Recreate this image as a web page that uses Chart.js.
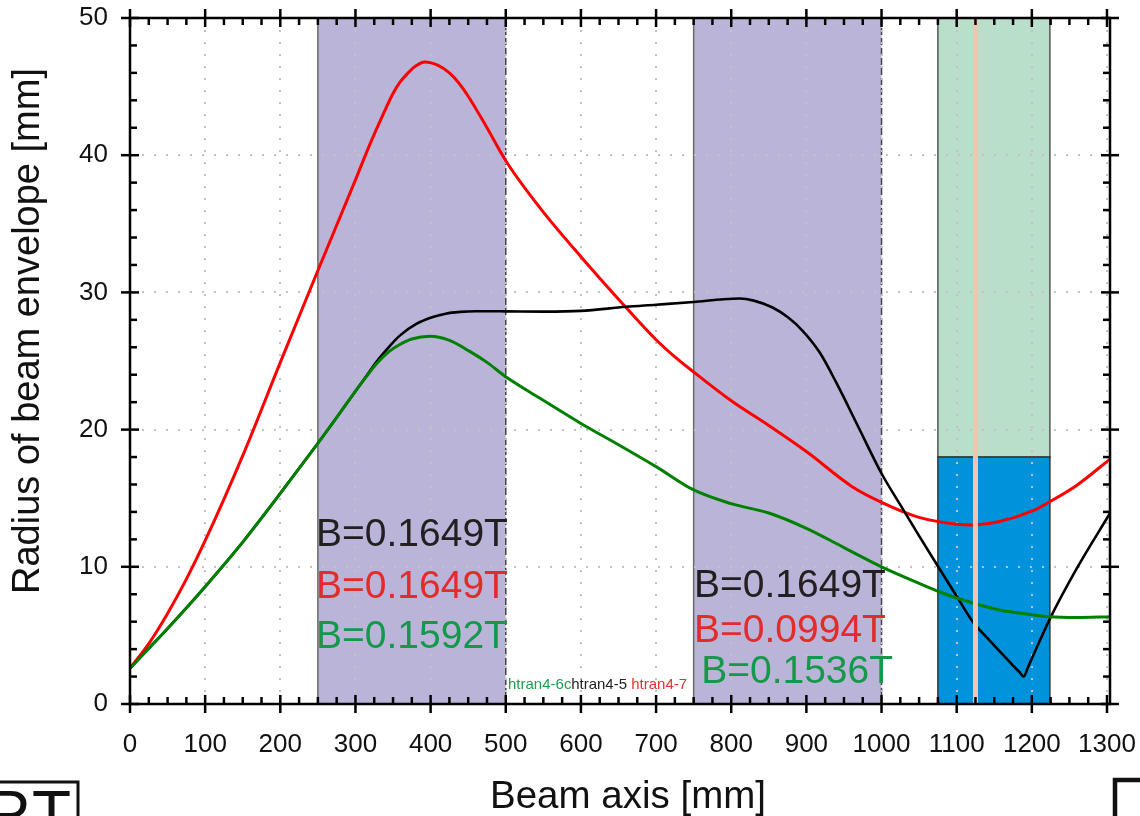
<!DOCTYPE html>
<html><head><meta charset="utf-8">
<script src="https://cdn.jsdelivr.net/npm/chart.js@4/dist/chart.umd.min.js"></script>
<style>html,body{margin:0;padding:0;background:#fff;}#wrap{width:1140px;height:816px;position:relative;overflow:hidden}</style>
</head><body><div id="wrap"><canvas id="c" width="1140" height="816"></canvas></div>
<script>
// ---- data ----
const seriesLabels = ['htran4-6c', 'htran4-5', 'htran4-7'];

const greenX = [0, 25, 50, 75, 100, 150, 200, 250, 270, 300, 315, 328, 345, 359, 375, 399, 425, 452, 475, 500, 545, 600, 650, 700, 750, 800, 851, 900, 950, 1000, 1050, 1076, 1104, 1157, 1201, 1223, 1259, 1304];
const greenY = [2.6, 4.05, 5.5, 7.0, 8.55, 11.8, 15.35, 19.0, 20.5, 22.8, 23.9, 24.8, 25.7, 26.2, 26.6, 26.8, 26.5, 25.7, 24.9, 23.85, 22.3, 20.45, 18.9, 17.3, 15.6, 14.6, 13.9, 12.8, 11.4, 10.0, 8.8, 8.2, 7.65, 6.85, 6.5, 6.36, 6.3, 6.36];

const blackX = [0, 25, 50, 75, 100, 150, 200, 250, 270, 300, 315, 328, 345, 359, 381, 403, 420, 439, 460, 500, 550, 600, 660, 700, 750, 790, 811, 830, 855, 875, 895, 918, 940, 970, 1000, 1024, 1050, 1076, 1100, 1122, 1140, 1157, 1175, 1184, 1189, 1195, 1223, 1260, 1304];
const blackY = [2.6, 4.05, 5.5, 7.0, 8.55, 11.8, 15.35, 19.0, 20.5, 22.8, 23.95, 24.95, 26.05, 26.85, 27.7, 28.2, 28.45, 28.58, 28.63, 28.62, 28.6, 28.65, 28.95, 29.1, 29.3, 29.5, 29.55, 29.4, 28.9, 28.2, 27.2, 25.6, 23.4, 20.1, 16.8, 14.6, 12.25, 9.95, 7.85, 5.95, 4.85, 3.85, 2.8, 2.3, 2.0, 2.7, 6.1, 9.9, 13.9];

const redX = [0, 25, 50, 75, 100, 150, 200, 250, 300, 320, 337, 350, 359, 370, 380, 392, 410, 425, 437, 450, 475, 500, 545, 600, 660, 700, 725, 750, 800, 850, 900, 962, 1000, 1050, 1100, 1120, 1157, 1200, 1224, 1260, 1304];
const redY = [2.6, 4.4, 6.6, 9.1, 11.9, 18.1, 24.9, 31.6, 38.2, 40.9, 43.0, 44.5, 45.3, 46.0, 46.5, 46.8, 46.55, 46.0, 45.3, 44.3, 42.0, 39.6, 36.2, 32.6, 28.9, 26.55, 25.3, 24.2, 22.1, 20.3, 18.4, 15.8, 14.7, 13.6, 13.1, 13.05, 13.3, 14.05, 14.75, 15.95, 17.85];

const xTicks = [0, 100, 200, 300, 400, 500, 600, 700, 800, 900, 1000, 1100, 1200, 1300];
const yTicks = [0, 10, 20, 30, 40, 50];

// magnet field regions [start, end] in mm
const magnetRegions = [[250, 500], [750, 1000]];
// detector box [start, end] and split height
const boxRange = [1075, 1224];
const boxSplit = 18;
const markerX = 1125;

// annotation texts
const annotTexts = ['B=0.1649T', 'B=0.1649T', 'B=0.1592T', 'B=0.1649T', 'B=0.0994T', 'B=0.1536T'];
const annotAnchorX = [247.5, 247.5, 247.5, 750.5, 750.5, 760];
const annotAnchorY = [12.3, 8.5, 4.85, 8.55, 5.3, 2.35];
const annotColors = ['#231f20', '#e32b2b', '#14984a', '#231f20', '#e32b2b', '#14984a'];
const legendAnchorX = [503, 587, 667];
const legendAnchorY = 1.4;

const xTitle = 'Beam axis [mm]';
const yTitle = 'Radius of beam envelope [mm]';

const FONT = "'Liberation Sans', Arial, sans-serif";
Chart.defaults.font.family = FONT;

const zip = (xs, ys) => xs.map((v, i) => ({x: v, y: ys[i]}));

function seg(ctx, x1, y1, x2, y2) { ctx.beginPath(); ctx.moveTo(x1, y1); ctx.lineTo(x2, y2); ctx.stroke(); }

const bgPlugin = {
  id: 'bgRegions',
  beforeDraw(chart) {
    const {ctx, scales: {x, y}} = chart;
    ctx.save();
    const yt = y.getPixelForValue(50), yb = y.getPixelForValue(0);
    magnetRegions.forEach(([a, b]) => {
      const x1 = x.getPixelForValue(a), x2 = x.getPixelForValue(b);
      ctx.fillStyle = '#bab5d8';
      ctx.fillRect(x1, yt, x2 - x1, yb - yt);
      ctx.lineWidth = 1.5;
      ctx.strokeStyle = '#6a6a6a';
      seg(ctx, x1, yt, x1, yb);
      ctx.setLineDash([7, 3]);
      ctx.strokeStyle = '#444';
      seg(ctx, x2, yt, x2, yb);
      ctx.setLineDash([]);
    });
    const bx1 = x.getPixelForValue(boxRange[0]), bx2 = x.getPixelForValue(boxRange[1]);
    const ys = y.getPixelForValue(boxSplit);
    ctx.fillStyle = '#b9dec9';
    ctx.fillRect(bx1, yt, bx2 - bx1, ys - yt);
    ctx.lineWidth = 1.5;
    ctx.strokeStyle = '#555';
    ctx.strokeRect(bx1, yt, bx2 - bx1, ys - yt);
    ctx.fillStyle = '#0093dc';
    ctx.fillRect(bx1, ys, bx2 - bx1, yb - ys);
    ctx.strokeStyle = '#333';
    ctx.strokeRect(bx1, ys, bx2 - bx1, yb - ys);
    ctx.restore();
  },
  afterDatasetsDraw(chart) {
    const {ctx, scales: {x, y}} = chart;
    ctx.save();
    ctx.strokeStyle = '#f3c4b1';
    ctx.lineWidth = 5;
    const px = x.getPixelForValue(markerX);
    seg(ctx, px, y.getPixelForValue(50), px, y.getPixelForValue(0));
    ctx.restore();
  },
  afterDraw(chart) {
    const {ctx, scales: {x, y}, chartArea: ca} = chart;
    ctx.save();
    // frame
    ctx.strokeStyle = '#000';
    ctx.lineWidth = 2.5;
    ctx.lineCap = 'butt';
    seg(ctx, ca.left, ca.top - 1, ca.left, ca.bottom + 1);
    seg(ctx, ca.left - 1, ca.bottom, ca.right + 1, ca.bottom);
    seg(ctx, ca.left - 1, ca.top, ca.right + 1, ca.top);
    seg(ctx, ca.right, ca.top - 1, ca.right, ca.bottom + 1);
    // ticks
    for (let v = 0; v <= 1300; v += 25) {
      const px = x.getPixelForValue(v);
      if (v % 100 === 0) {
        seg(ctx, px, ca.bottom - 9, px, ca.bottom + 9);
        seg(ctx, px, ca.top - 9, px, ca.top + 9);
      } else {
        seg(ctx, px, ca.bottom - 7, px, ca.bottom);
        seg(ctx, px, ca.top, px, ca.top + 7);
      }
    }
    for (let v = 0; v <= 50; v += 2) {
      const py = y.getPixelForValue(v);
      if (v % 10 === 0) {
        seg(ctx, ca.left - 9, py, ca.left + 9, py);
        seg(ctx, ca.right - 9, py, ca.right + 9, py);
      } else {
        seg(ctx, ca.left, py, ca.left + 7, py);
        seg(ctx, ca.right - 7, py, ca.right, py);
      }
    }
    // annotations
    ctx.font = '39px ' + FONT;
    ctx.textBaseline = 'middle';
    ctx.textAlign = 'left';
    annotTexts.forEach((t, i) => {
      ctx.fillStyle = annotColors[i];
      ctx.fillText(t, x.getPixelForValue(annotAnchorX[i]), y.getPixelForValue(annotAnchorY[i]));
    });
    // small legend
    ctx.font = '15px ' + FONT;
    const legColors = ['#1e9e4e', '#222', '#e8302c'];
    seriesLabels.forEach((t, i) => {
      ctx.fillStyle = legColors[i];
      ctx.fillText(t, x.getPixelForValue(legendAnchorX[i]), y.getPixelForValue(legendAnchorY));
    });
    // axis titles
    ctx.fillStyle = '#111';
    ctx.font = '38.5px ' + FONT;
    ctx.textAlign = 'center';
    ctx.fillText(xTitle, 628, 797);
    ctx.save();
    ctx.translate(29, 331);
    ctx.rotate(-Math.PI / 2);
    ctx.font = '38px ' + FONT;
    ctx.fillText(yTitle, 0, 0);
    ctx.restore();
    // logos (cropped)
    ctx.strokeStyle = '#111';
    ctx.lineWidth = 3;
    ctx.strokeRect(-10, 782, 88, 60);
    ctx.fillStyle = '#111';
    ctx.font = '64px ' + FONT;
    ctx.textAlign = 'left';
    ctx.textBaseline = 'alphabetic';
    ctx.fillText('R', -15, 836);
    ctx.fillText('T', 32, 836);
    ctx.lineWidth = 4.5;
    ctx.beginPath();
    ctx.moveTo(1115, 820); ctx.lineTo(1115, 780); ctx.lineTo(1145, 780);
    ctx.stroke();
    ctx.restore();
  }
};

function noPad(s) { s.paddingLeft = 0; s.paddingRight = 0; s.paddingTop = 0; s.paddingBottom = 0; }

new Chart(document.getElementById('c'), {
  type: 'scatter',
  data: {
    datasets: [
      {label: seriesLabels[0], data: zip(greenX, greenY), borderColor: '#008000', borderWidth: 3},
      {label: seriesLabels[1], data: zip(blackX, blackY), borderColor: '#000000', borderWidth: 2.6},
      {label: seriesLabels[2], data: zip(redX, redY), borderColor: '#ff0000', borderWidth: 3}
    ].map(d => Object.assign(d, {showLine: true, pointRadius: 0, pointHoverRadius: 0, fill: false, cubicInterpolationMode: 'monotone'}))
  },
  options: {
    responsive: false,
    animation: false,
    devicePixelRatio: 1,
    layout: {padding: {top: 18, right: 30, left: 0, bottom: 0}},
    plugins: {legend: {display: false}, tooltip: {enabled: false}},
    scales: {
      x: {
        type: 'linear', min: 0, max: 1304,
        afterBuildTicks: s => { s.ticks = xTicks.map(v => ({value: v})); },
        afterFit: s => { s.height = 112; noPad(s); },
        ticks: {padding: 25, color: '#111', font: {size: 26}, maxRotation: 0, autoSkip: false, callback: v => String(v)},
        grid: {display: true, drawTicks: false, color: '#c2c2c2', lineWidth: 2},
        border: {display: false, dash: [2, 10]}
      },
      y: {
        type: 'linear', min: 0, max: 50,
        afterBuildTicks: s => { s.ticks = yTicks.map(v => ({value: v})); },
        afterFit: s => { s.width = 130; noPad(s); },
        ticks: {padding: 22, color: '#111', font: {size: 26}, callback: v => String(v)},
        grid: {display: true, drawTicks: false, color: '#c2c2c2', lineWidth: 2},
        border: {display: false, dash: [2, 10]}
      }
    }
  },
  plugins: [bgPlugin]
});
</script>
</body></html>
